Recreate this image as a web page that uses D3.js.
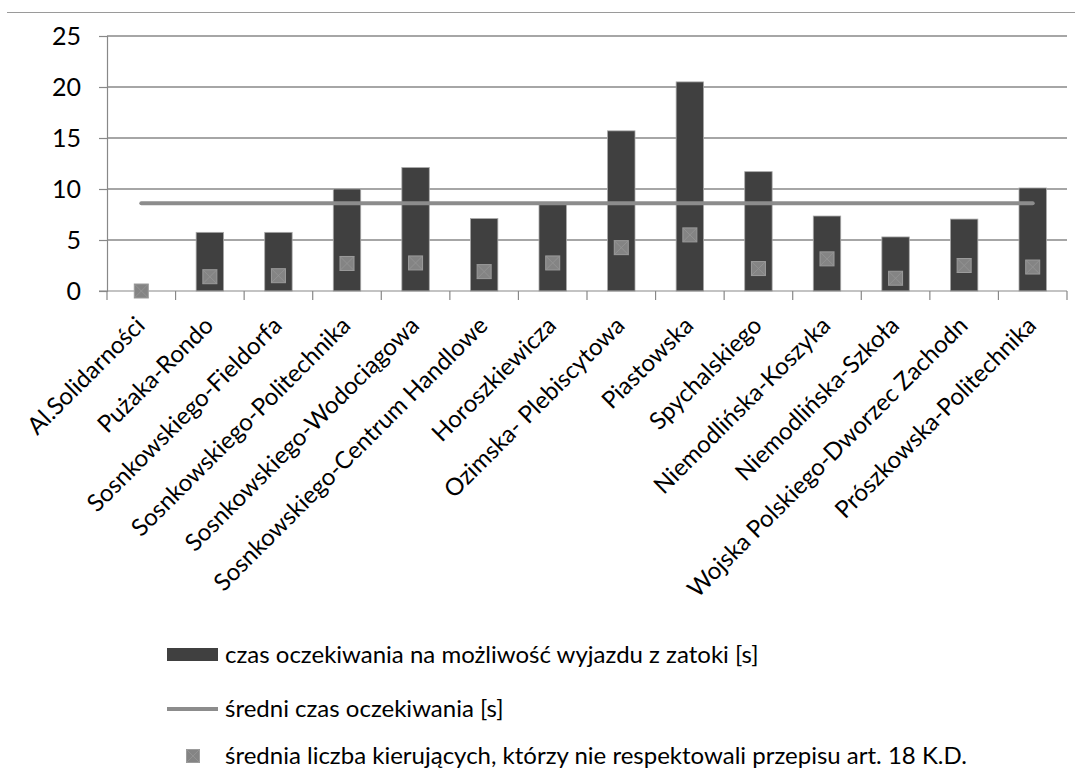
<!DOCTYPE html>
<html>
<head>
<meta charset="utf-8">
<script src="https://cdn.jsdelivr.net/npm/d3@7/dist/d3.min.js"></script>
<style>
  html, body { margin: 0; padding: 0; background: #fff; }
  svg { display: block; }
  text { font-family: Lato, "Open Sans", sans-serif; fill: #000; }
</style>
</head>
<body>
<svg id="chart" width="1075" height="770"></svg>
<script>
// Bus stops (zatoki) along the route
const categories = [
  "Al.Solidarności", "Pużaka-Rondo", "Sosnkowskiego-Fieldorfa",
  "Sosnkowskiego-Politechnika", "Sosnkowskiego-Wodociągowa",
  "Sosnkowskiego-Centrum Handlowe", "Horoszkiewicza", "Ozimska- Plebiscytowa",
  "Piastowska", "Spychalskiego", "Niemodlińska-Koszyka", "Niemodlińska-Szkoła",
  "Wojska Polskiego-Dworzec Zachodn", "Prószkowska-Politechnika"
];
// Waiting time to leave the bay [s]
const waitTime = [0, 5.75, 5.75, 10.0, 12.1, 7.1, 8.5, 15.7, 20.5, 11.7, 7.35, 5.3, 7.05, 10.1];
// Mean waiting time [s]
const meanWait = 8.6;
// Mean number of drivers ignoring art. 18 K.D.
const drivers = [0, 1.4, 1.5, 2.7, 2.75, 1.9, 2.75, 4.25, 5.5, 2.2, 3.15, 1.25, 2.5, 2.35];
const yTicks = [0, 5, 10, 15, 20, 25];

const legendLabels = [
  "czas oczekiwania na możliwość wyjazdu z zatoki [s]",
  "średni czas oczekiwania [s]",
  "średnia liczba kierujących, którzy nie respektowali przepisu art. 18 K.D."
];

const svg = d3.select("#chart");
const plotL = 107, plotR = 1067, plotT = 36, plotB = 291;

const x = d3.scaleBand().domain(categories).range([plotL, plotR]).padding(0);
const step = x.step();
const cx = c => x(c) + step / 2;
const y = d3.scaleLinear().domain([0, 25]).range([plotB, plotT]);

// thin frame line at the top
svg.append("line")
  .attr("x1", 7).attr("x2", 1075).attr("y1", 12.5).attr("y2", 12.5)
  .attr("stroke", "#9a9a9a").attr("stroke-width", 1);

// y axis with gridlines
const yAxis = d3.axisLeft(y).tickValues(yTicks).tickSize(8).tickPadding(18);
const gy = svg.append("g").attr("transform", `translate(${plotL},0)`).call(yAxis);
gy.select(".domain").attr("stroke", "#888").attr("stroke-width", 1.2);
gy.selectAll(".tick line").attr("stroke", "#888").attr("stroke-width", 1.2);
gy.selectAll(".tick text").style("font-size", "25px").style("font-family", "Lato, sans-serif").attr("fill", "#000");

svg.append("g").selectAll("line").data(yTicks.filter(t => t > 0)).join("line")
  .attr("x1", plotL).attr("x2", plotR)
  .attr("y1", d => y(d)).attr("y2", d => y(d))
  .attr("stroke", "#888").attr("stroke-width", 1.3);

// bars
const barW = step * 0.4;
svg.append("g").selectAll("rect").data(categories).join("rect")
  .attr("x", (c) => cx(c) - barW / 2)
  .attr("width", barW)
  .attr("y", (c, i) => y(waitTime[i]))
  .attr("height", (c, i) => y(0) - y(waitTime[i]))
  .attr("fill", "#404040")
  .attr("stroke", "#a8a8a8").attr("stroke-width", 0.8);

// x axis with boundary ticks
const gx = svg.append("g").attr("transform", `translate(0,${plotB})`);
gx.append("line").attr("x1", plotL - 8).attr("x2", plotR).attr("y1", 0).attr("y2", 0)
  .attr("stroke", "#888").attr("stroke-width", 1.2);
const bounds = categories.map(c => x(c)).concat([plotR]);
gx.selectAll("line.tk").data(bounds).join("line").attr("class", "tk")
  .attr("x1", d => d).attr("x2", d => d).attr("y1", 0).attr("y2", 9)
  .attr("stroke", "#888").attr("stroke-width", 1.2);
gx.selectAll("text").data(categories).join("text")
  .attr("text-anchor", "end")
  .attr("transform", c => `translate(${cx(c) + 5},${36}) rotate(-45)`)
  .style("font-size", "24px")
  .text(c => c);

// mean waiting time line
svg.append("line")
  .attr("x1", cx(categories[0])).attr("x2", cx(categories[categories.length - 1]))
  .attr("y1", y(meanWait)).attr("y2", y(meanWait))
  .attr("stroke", "#8c8c8c").attr("stroke-width", 4).attr("stroke-linecap", "round");

// square markers
function marker(g, size) {
  const h = size / 2;
  g.append("rect").attr("x", -h).attr("y", -h).attr("width", size).attr("height", size)
    .attr("fill", "#848484").attr("stroke", "#9c9c9c").attr("stroke-width", 1);
  g.append("path").attr("d", `M${-h},${-h}L${h},${h}M${h},${-h}L${-h},${h}`)
    .attr("stroke", "#969696").attr("stroke-width", 0.8);
}
svg.append("g").selectAll("g").data(categories).join("g")
  .attr("transform", (c, i) => `translate(${cx(c)},${y(drivers[i])})`)
  .each(function() { marker(d3.select(this), 14); });

// legend
const lg = svg.append("g");
lg.append("rect").attr("x", 167).attr("y", 648).attr("width", 51).attr("height", 13)
  .attr("fill", "#404040");
lg.append("text").attr("x", 225).attr("y", 663).style("font-size", "24px").text(legendLabels[0]);
lg.append("line").attr("x1", 167).attr("x2", 218).attr("y1", 709).attr("y2", 709)
  .attr("stroke", "#8c8c8c").attr("stroke-width", 4);
lg.append("text").attr("x", 225).attr("y", 717).style("font-size", "24px").text(legendLabels[1]);
const lm = lg.append("g").attr("transform", "translate(193,756)");
marker(lm, 13);
lg.append("text").attr("x", 225).attr("y", 764).style("font-size", "24px").text(legendLabels[2]);
</script>
</body>
</html>
